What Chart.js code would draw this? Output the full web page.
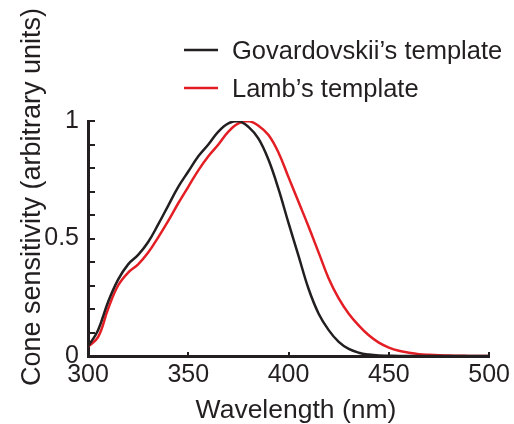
<!DOCTYPE html>
<html>
<head>
<meta charset="utf-8">
<script src="https://cdn.jsdelivr.net/npm/chart.js@4"></script>
<style>
  html, body { margin: 0; padding: 0; background: #fff; }
  canvas { display: block; }
</style>
</head>
<body>
<canvas id="coneChart" width="514" height="424"></canvas>
<script>
const wavelengths = [300, 305, 310, 315, 320, 325, 330, 335, 340, 345,
  350, 355, 360, 365, 370, 375, 380, 385, 390, 395,
  400, 405, 410, 415, 420, 425, 430, 435, 440, 445,
  450, 455, 460, 465, 470, 475, 480, 485, 490, 495, 500];

const govardovskii = [0.04, 0.11, 0.23, 0.325, 0.39, 0.43, 0.485, 0.56, 0.64, 0.72,
  0.785, 0.85, 0.90, 0.955, 0.99, 1.0, 0.975, 0.925, 0.835, 0.71,
  0.565, 0.425, 0.285, 0.18, 0.11, 0.06, 0.03, 0.014, 0.006, 0.002,
  0.001, 0, 0, 0, 0, 0, 0, 0, 0, 0, 0];

const lamb = [0.04, 0.08, 0.20, 0.30, 0.355, 0.39, 0.44, 0.505, 0.575, 0.65,
  0.72, 0.79, 0.85, 0.90, 0.955, 0.99, 1.0, 0.98, 0.94, 0.865,
  0.76, 0.655, 0.55, 0.44, 0.33, 0.245, 0.18, 0.13, 0.088, 0.057,
  0.036, 0.022, 0.014, 0.008, 0.005, 0.003, 0.002, 0.001, 0.0005, 0, 0];

const seriesNames = ["Govardovskii\u2019s template", "Lamb\u2019s template"];
const yLabelTicks = [0, 0.5, 1];
const xTitle = "Wavelength (nm)";
const yTitle = "Cone sensitivity (arbitrary units)";

const FONT = "'Liberation Sans', Arial, Helvetica, sans-serif";
const BLACK = "#231f20";
const RED = "#e31e24";

const toPoints = vals => wavelengths.map((w, i) => ({ x: w, y: vals[i] }));

// inward tick marks, axis titles and the legend
const decorations = {
  id: "decorations",
  afterDraw(chart) {
    const { ctx, scales: { x, y } } = chart;
    ctx.save();
    ctx.strokeStyle = BLACK;
    ctx.lineWidth = 2;
    y.ticks.forEach(t => {
      const py = Math.round(y.getPixelForValue(t.value));
      ctx.beginPath();
      ctx.moveTo(x.left, py);
      ctx.lineTo(x.left + 7, py);
      ctx.stroke();
    });
    x.ticks.forEach(t => {
      const px = Math.round(x.getPixelForValue(t.value));
      ctx.beginPath();
      ctx.moveTo(px, y.bottom);
      ctx.lineTo(px, y.bottom - 4);
      ctx.stroke();
    });

    ctx.fillStyle = BLACK;
    ctx.font = "26.5px " + FONT;
    ctx.textAlign = "center";
    ctx.textBaseline = "alphabetic";
    ctx.fillText(xTitle, 296, 418);

    ctx.save();
    ctx.translate(40, 197);
    ctx.rotate(-Math.PI / 2);
    ctx.font = "27px " + FONT;
    ctx.fillText(yTitle, 0, 0);
    ctx.restore();

    ctx.font = "25.5px " + FONT;
    ctx.textAlign = "left";
    chart.data.datasets.forEach((ds, i) => {
      const ly = 50 + i * 38;
      ctx.strokeStyle = ds.borderColor;
      ctx.lineWidth = 2.5;
      ctx.beginPath();
      ctx.moveTo(184, ly);
      ctx.lineTo(218, ly);
      ctx.stroke();
      ctx.fillText(ds.label, 232, ly + 9);
    });
    ctx.restore();
  }
};

new Chart(document.getElementById("coneChart"), {
  type: "line",
  data: {
    datasets: [
      { label: seriesNames[0], data: toPoints(govardovskii), borderColor: BLACK, borderWidth: 2.5 },
      { label: seriesNames[1], data: toPoints(lamb), borderColor: RED, borderWidth: 2.5 }
    ]
  },
  options: {
    responsive: false,
    animation: false,
    devicePixelRatio: 1,
    layout: { padding: { left: 0, right: 23, top: 121, bottom: 0 } },
    elements: {
      point: { radius: 0 },
      line: { tension: 0.4, capBezierPoints: true, fill: false }
    },
    plugins: { legend: { display: false }, tooltip: { enabled: false } },
    scales: {
      x: {
        type: "linear",
        min: 300,
        max: 500,
        afterFit: s => { s.height = 68; },
        grid: { display: false, drawTicks: false },
        border: { color: BLACK, width: 3 },
        ticks: {
          stepSize: 50,
          padding: 4,
          color: BLACK,
          font: { family: FONT, size: 25 },
          maxRotation: 0
        }
      },
      y: {
        min: 0,
        max: 1,
        afterFit: s => { s.width = 88; },
        grid: { display: false, drawTicks: false },
        border: { color: BLACK, width: 3 },
        ticks: {
          stepSize: 0.1,
          padding: 9,
          color: BLACK,
          autoSkip: false,
          font: { family: FONT, size: 25 },
          callback: v => yLabelTicks.some(t => Math.abs(t - v) < 1e-6) ? String(Math.round(v * 10) / 10) : ""
        }
      }
    }
  },
  plugins: [decorations]
});
</script>
</body>
</html>
